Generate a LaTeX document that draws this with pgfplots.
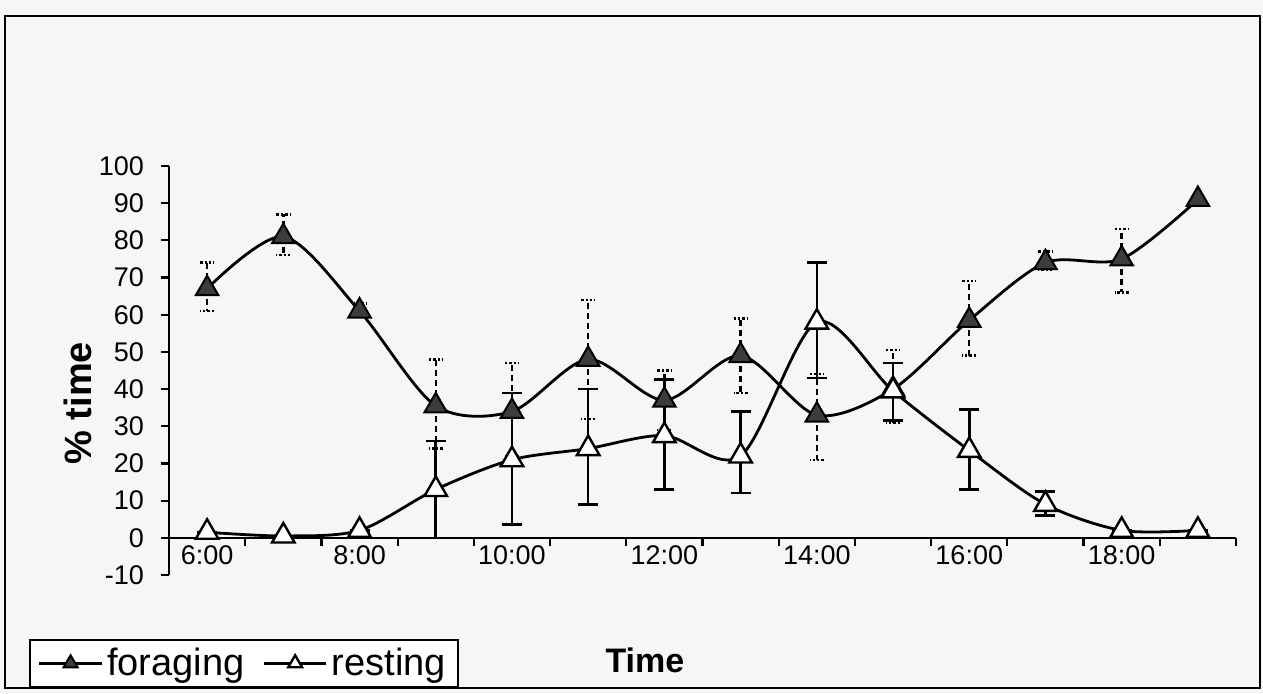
\documentclass[border=0pt]{standalone}
\usepackage{fontspec}
\setmainfont{Liberation Sans}
\usepackage{pgfplots}
\pgfplotsset{compat=1.18}

\definecolor{markgray}{RGB}{60,60,60}
\definecolor{paper}{RGB}{246,246,246}

\pgfplotstableread{
x  y    ep   em
6  67   7    6
7  81   6    5
8  61   2    1.5
9  35.5 12.5 11.5
10 34   13   12
11 48   16   16
12 37   8    8
13 49   10   10
14 33   11   12
15 40   10.5 9
16 58.5 10.5 9.5
17 74   3    2
18 75   8    9
19 91   0    0
}\foraging

\pgfplotstableread{
x  y    ep   em
6  1.5  0    0
7  0.5  0    0
8  2    0    0
9  13   13   13
10 21   18   17.5
11 24   16   15
12 27.5 15   14.5
13 22   12   10
14 58   16   15
15 39.5 7.5  8
16 23.5 11   10.5
17 9    3.5  3
18 2    0    0
19 2    0    0
}\resting

\begin{document}
\begin{tikzpicture}
% page frame, in pixels of the reference (axis origin at pixel 169,575)
\begin{scope}[x=0.5pt,y=-0.5pt,shift={(-84.5pt,287.5pt)}]
  \fill[paper] (0,0) rectangle (1263,694);
  \draw[line width=1.2pt] (5,16) rectangle (1260,688);
\end{scope}
\begin{axis}[
    scale only axis,
    width=533.5pt,
    height=204.5pt,
    xmin=5.5, xmax=19.5,
    ymin=-10, ymax=100,
    axis y line=left,
    axis x line=middle,
    axis line style={-, line width=1.1pt},
    every tick/.style={black, line width=1.1pt},
    tick align=outside,
    major tick length=4pt,
    ytick={-10,0,...,100},
    xtick={5.5,6.5,...,19.5},
    xticklabels={},
    extra x ticks={6,8,...,18},
    extra x tick labels={6:00,8:00,10:00,12:00,14:00,16:00,18:00},
    extra x tick style={major tick length=0pt},
    /pgf/number format/assume math mode=true,
    tick label style={font=\fontsize{13.5}{16}\selectfont},
    xticklabel style={yshift=-0.5pt},
    yticklabel style={xshift=-5pt},
    xlabel={Time},
    ylabel={\% time},
    every axis x label/.style={at={(rel axis cs:0.446,-0.208)},anchor=center,
        font=\fontsize{17}{20}\selectfont\bfseries},
    every axis y label/.style={at={(rel axis cs:-0.0853,0.42)},anchor=center,rotate=90,
        font=\fontsize{19}{22}\selectfont\bfseries},
    legend columns=2,
    legend style={at={(rel axis cs:-0.1312,-0.1565)}, anchor=north west,
        draw=black, line width=1pt, fill=white,
        font=\fontsize{19}{21}\selectfont,
        inner xsep=4pt, inner ysep=2pt,
        /tikz/every even column/.append style={column sep=7pt}},
    legend image code/.code={\draw[mark repeat=2,mark phase=2,line width=1.3pt]
        plot coordinates {(0cm,0cm)(0.55cm,0cm)(1.1cm,0cm)};},
    legend image post style={mark size=4pt},
    error bars/y dir=both,
    error bars/y explicit,
]
\addplot[black, line width=1.4pt, smooth, tension=0.5,
    mark=triangle*, mark size=6.5pt,
    mark options={solid, fill=markgray, draw=black, line width=1pt},
    error bars/error bar style={densely dashed, line width=1.2pt},
    error bars/error mark options={rotate=90, mark size=3.5pt, line width=1.2pt, densely dotted},
] table[x=x, y=y, y error plus=ep, y error minus=em] {\foraging};
\addlegendentry{foraging}
\addplot[black, line width=1.4pt, smooth, tension=0.5,
    mark=triangle*, mark size=6.5pt,
    mark options={solid, fill=white, draw=black, line width=1.2pt},
    error bars/error bar style={solid, line width=1.3pt},
    error bars/error mark options={rotate=90, mark size=5pt, line width=1.3pt},
] table[x=x, y=y, y error plus=ep, y error minus=em] {\resting};
\addlegendentry{resting}
\end{axis}
\end{tikzpicture}
\end{document}
